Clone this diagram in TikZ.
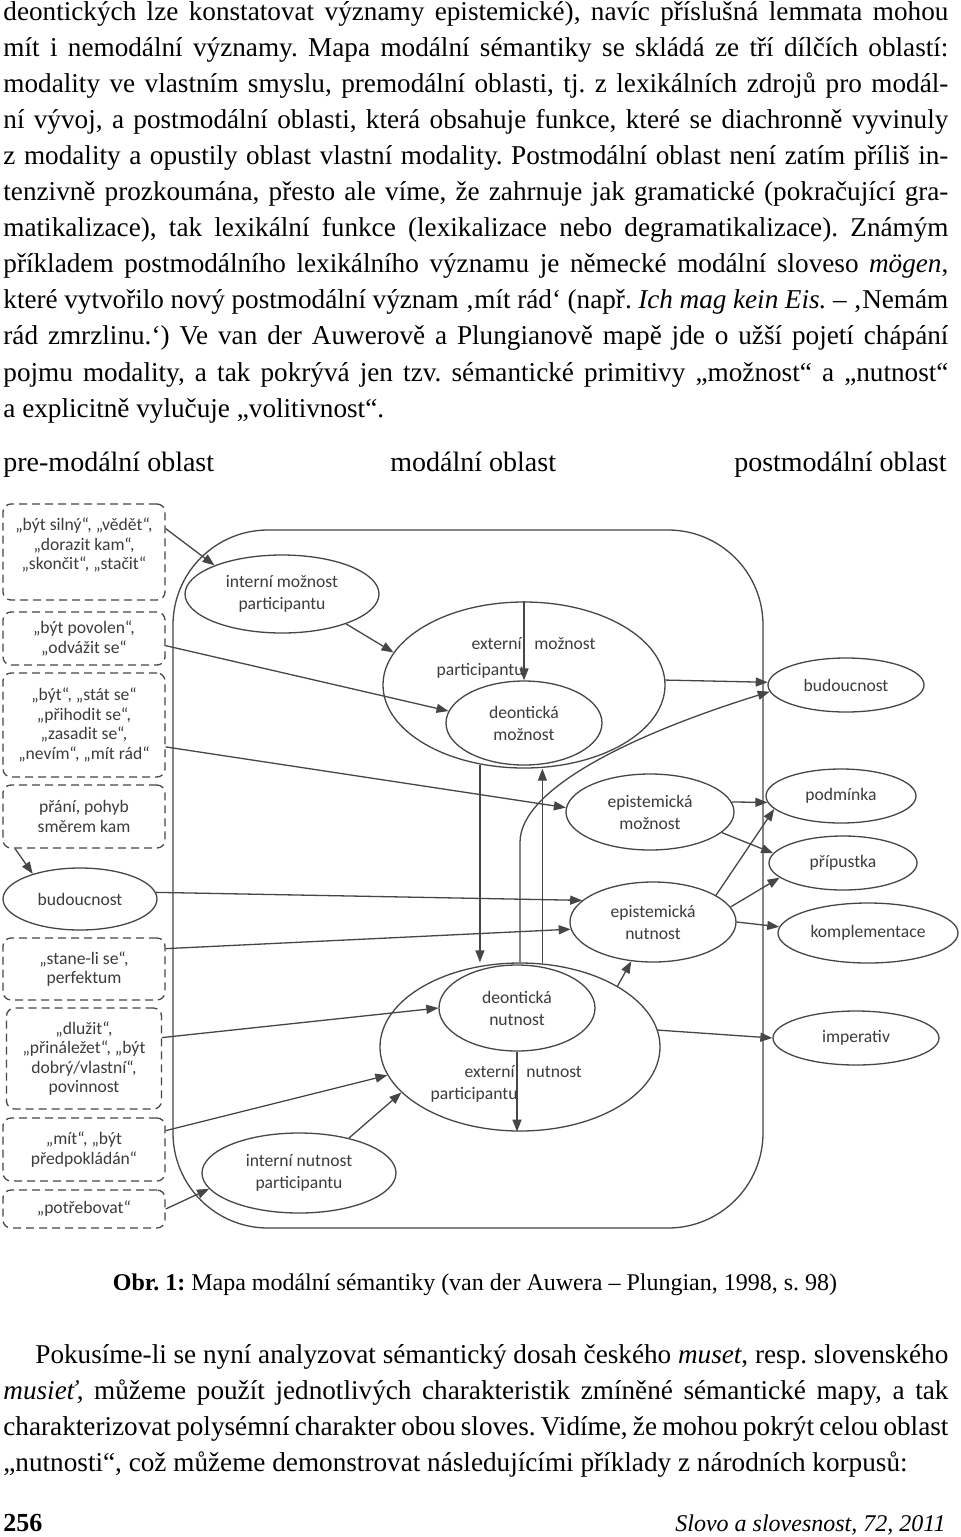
\documentclass[tikz,border=0pt]{standalone}
\usepackage{fontspec}
\setmainfont{Liberation Serif}
\newfontfamily\diafont{Carlito}
\usepackage{xcolor}
\usetikzlibrary{shapes.geometric,arrows.meta}

\definecolor{linegray}{RGB}{70,70,70}
\definecolor{textgray}{RGB}{60,60,60}

\newcommand\jline[1]{\hbox to 472.5pt{#1}}
\newcommand\bodyspacing{\spaceskip=0.25em plus 0.3em minus 0.12em\relax}

\tikzset{
  sem/.style={ellipse, draw=linegray, line width=0.65pt, inner sep=0pt, align=center,
    text=textgray, font=\diafont\fontsize{8.8}{11}\selectfont},
  lbl/.style={inner sep=0pt, text=textgray, font=\diafont\fontsize{8.8}{11}\selectfont},
  lexbox/.style={draw=linegray, dash pattern=on 4pt off 2.5pt, rounded corners=4pt,
    line width=0.65pt, minimum width=81pt, inner sep=0pt, align=center,
    text=textgray, font=\diafont\fontsize{8.8}{9.8}\selectfont},
  link/.style={draw=linegray, line width=0.65pt, -{Triangle[length=6pt,width=4.5pt]}},
  bodytext/.style={anchor=base west, inner sep=0pt, font=\fontsize{13.6}{18.05}\selectfont},
  headtext/.style={inner sep=0pt, font=\fontsize{14}{16}\selectfont}
}

\begin{document}
\frenchspacing
\begin{tikzpicture}[x=0.5pt, y=-0.5pt]
\fill[white] (0,0) rectangle (960,1537);
\useasboundingbox (0,0) rectangle (960,1537);

\node[bodytext] (parTop) at (3,20) {\bodyspacing\vtop{%
\jline{deontických lze konstatovat významy epistemické), navíc příslušná lemmata mohou}
\jline{mít i nemodální významy. Mapa modální sémantiky se skládá ze tří dílčích oblastí:}
\jline{modality ve vlastním smyslu, premodální oblasti, tj. z lexikálních zdrojů pro modál-}
\jline{ní vývoj, a postmodální oblasti, která obsahuje funkce, které se diachronně vyvinuly}
\jline{z modality a opustily oblast vlastní modality. Postmodální oblast není zatím příliš in-}
\jline{tenzivně prozkoumána, přesto ale víme, že zahrnuje jak gramatické (pokračující gra-}
\jline{matikalizace), tak lexikální funkce (lexikalizace nebo degramatikalizace). Známým}
\jline{příkladem postmodálního lexikálního významu je německé modální sloveso \textit{mögen},}
\jline{které vytvořilo nový postmodální význam ‚mít rád‘ (např. \textit{Ich mag kein Eis.} – ‚Nemám}
\jline{rád zmrzlinu.‘) Ve van der Auwerově a Plungianově mapě jde o užší pojetí chápání}
\jline{pojmu modality, a tak pokrývá jen tzv. sémantické primitivy „možnost“ a „nutnost“}
\hbox{a explicitně vylučuje „volitivnost“.}}};

\node[headtext, anchor=base west] (hPre) at (3,471) {pre-modální oblast};
\node[headtext, anchor=base west] (hMod) at (390,471) {modální oblast};
\node[headtext, anchor=base east] (hPost) at (947,471) {postmodální oblast};

\draw[linegray, line width=0.65pt, rounded corners=47.5pt] (173,530) rectangle (763,1228);

\node[lexbox, minimum height=48pt, text depth=8pt] (lexA) at (84,552) {„být silný“, „vědět“,\\„dorazit kam“,\\„skončit“, „stačit“};
\node[lexbox, minimum height=26.5pt] (lexB) at (84,638.5) {„být povolen“,\\„odvážit se“};
\node[lexbox, minimum height=52pt] (lexC) at (84,725) {„být“, „stát se“\\„přihodit se“,\\„zasadit se“,\\„nevím“, „mít rád“};
\node[lexbox, minimum height=31.5pt] (lexD) at (84,816.5) {přání, pohyb\\směrem kam};
\node[lexbox, minimum height=31pt] (lexE) at (84,969) {„stane-li se“,\\perfektum};
\node[lexbox, minimum height=50.5pt, minimum width=77.5pt] (lexF) at (84,1058.5) {„dlužit“,\\„přináležet“, „být\\dobrý/vlastní“,\\povinnost};
\node[lexbox, minimum height=31.5pt] (lexG) at (84,1149.5) {„mít“, „být\\předpokládán“};
\node[lexbox, minimum height=19pt] (lexH) at (84,1209) {„potřebovat“};

\node[sem, minimum width=97pt, minimum height=39pt] (intMoz) at (282,594) {interní možnost\\participantu};
\node[sem, minimum width=141pt, minimum height=83pt] (extMoz) at (524,685) {};
\node[sem, minimum width=78pt, minimum height=42pt] (deoMoz) at (524,723) {deontická\\možnost};
\node[sem, minimum width=77pt, minimum height=31pt] (budL) at (80,899) {budoucnost};
\node[sem, minimum width=78pt, minimum height=27pt] (budR) at (846,685) {budoucnost};
\node[sem, minimum width=84pt, minimum height=38pt] (epiMoz) at (650,812) {epistemická\\možnost};
\node[sem, minimum width=75pt, minimum height=27pt] (podm) at (841,796) {podmínka};
\node[sem, minimum width=74pt, minimum height=27pt] (prip) at (843,863) {přípustka};
\node[sem, minimum width=90pt, minimum height=30pt] (kompl) at (868,933) {komplementace};
\node[sem, minimum width=83pt, minimum height=27pt] (imper) at (856,1038) {imperativ};
\node[sem, minimum width=83pt, minimum height=40pt] (epiNut) at (653,922) {epistemická\\nutnost};
\node[sem, minimum width=140pt, minimum height=84pt] (extNut) at (520,1047) {};
\node[sem, minimum width=78pt, minimum height=43pt] (deoNut) at (517,1008) {deontická\\nutnost};
\node[sem, minimum width=97pt, minimum height=40pt] (intNut) at (299,1173) {interní nutnost\\participantu};

\node[lbl, anchor=base east] (extMozA) at (522,649) {externí};
\node[lbl, anchor=base west] (extMozB) at (534,649) {možnost};
\node[lbl, anchor=base east] (extMozC) at (524,675) {participantu};
\node[lbl, anchor=base east] (extNutA) at (515,1077) {externí};
\node[lbl, anchor=base west] (extNutB) at (526,1077) {nutnost};
\node[lbl, anchor=base east] (extNutC) at (518,1099) {participantu};

\draw[link] (lexA.16) -- (intMoz.157);
\draw[link] (lexB.-5) -- (deoMoz.171);
\draw[link] (lexC.-15) -- (epiMoz.177);
\draw[link] (lexD.-155) -- (budL.152);
\draw[link] (intMoz.-25) -- (extMoz.166);
\draw[link] (extMoz.2) -- (budR.178);
\draw[link] (extMoz.north) -- (deoMoz.north);
\draw[link] (extMoz.-119) -- (extMoz.-119 |- extNut.north);
\draw[link] (extNut.75) -- (extNut.75 |- extMoz.south);
\draw[link] (extNut.north) -- ++(0,-120) .. controls +(0,-53) and (630,735) .. (budR.185);
\draw[link] (budL.5) -- (epiNut.163);
\draw[link] (lexE.14) -- (epiNut.185);
\draw[link] (lexF.15) -- (deoNut.180);
\draw[link] (lexG.13) -- (extNut.192);
\draw[link] (intNut.35) -- (extNut.201);
\draw[link] (lexH.east) -- (intNut.190);
\draw[link] (deoNut.south) -- (deoNut.south |- extNut.south);
\draw[link] (extNut.32) -- (epiNut.-119);
\draw[link] (extNut.7) -- (imper.180);
\draw[link] (epiMoz.7) -- (podm.185);
\draw[link] (epiMoz.-16) -- (prip.172);
\draw[link] (epiNut.23) -- (podm.191);
\draw[link] (epiNut.11) -- (prip.193);
\draw[link] (epiNut.east) -- (kompl.176);

\node[anchor=base, inner sep=0pt, font=\fontsize{12}{14}\selectfont] (caption) at (475,1290) {\textbf{Obr. 1:} Mapa modální sémantiky (van der Auwera – Plungian, 1998, s. 98)};

\node[bodytext] (parBottom) at (3,1363) {\bodyspacing\vtop{%
\jline{\hspace*{16pt}Pokusíme-li se nyní analyzovat sémantický dosah českého \textit{muset}, resp. slovenského}
\jline{\textit{musieť}, můžeme použít jednotlivých charakteristik zmíněné sémantické mapy, a tak}
\jline{charakterizovat polysémní charakter obou sloves. Vidíme, že mohou pokrýt celou oblast}
\hbox{„nutnosti“, což můžeme demonstrovat následujícími příklady z národních korpusů:}}};

\node[anchor=base west, inner sep=0pt, font=\fontsize{13}{15}\selectfont] (pageNum) at (3,1531) {\textbf{256}};
\node[anchor=base east, inner sep=0pt, font=\fontsize{12}{14}\selectfont] (journal) at (946,1531) {\textit{Slovo a slovesnost, 72, 2011}};
\end{tikzpicture}
\end{document}
